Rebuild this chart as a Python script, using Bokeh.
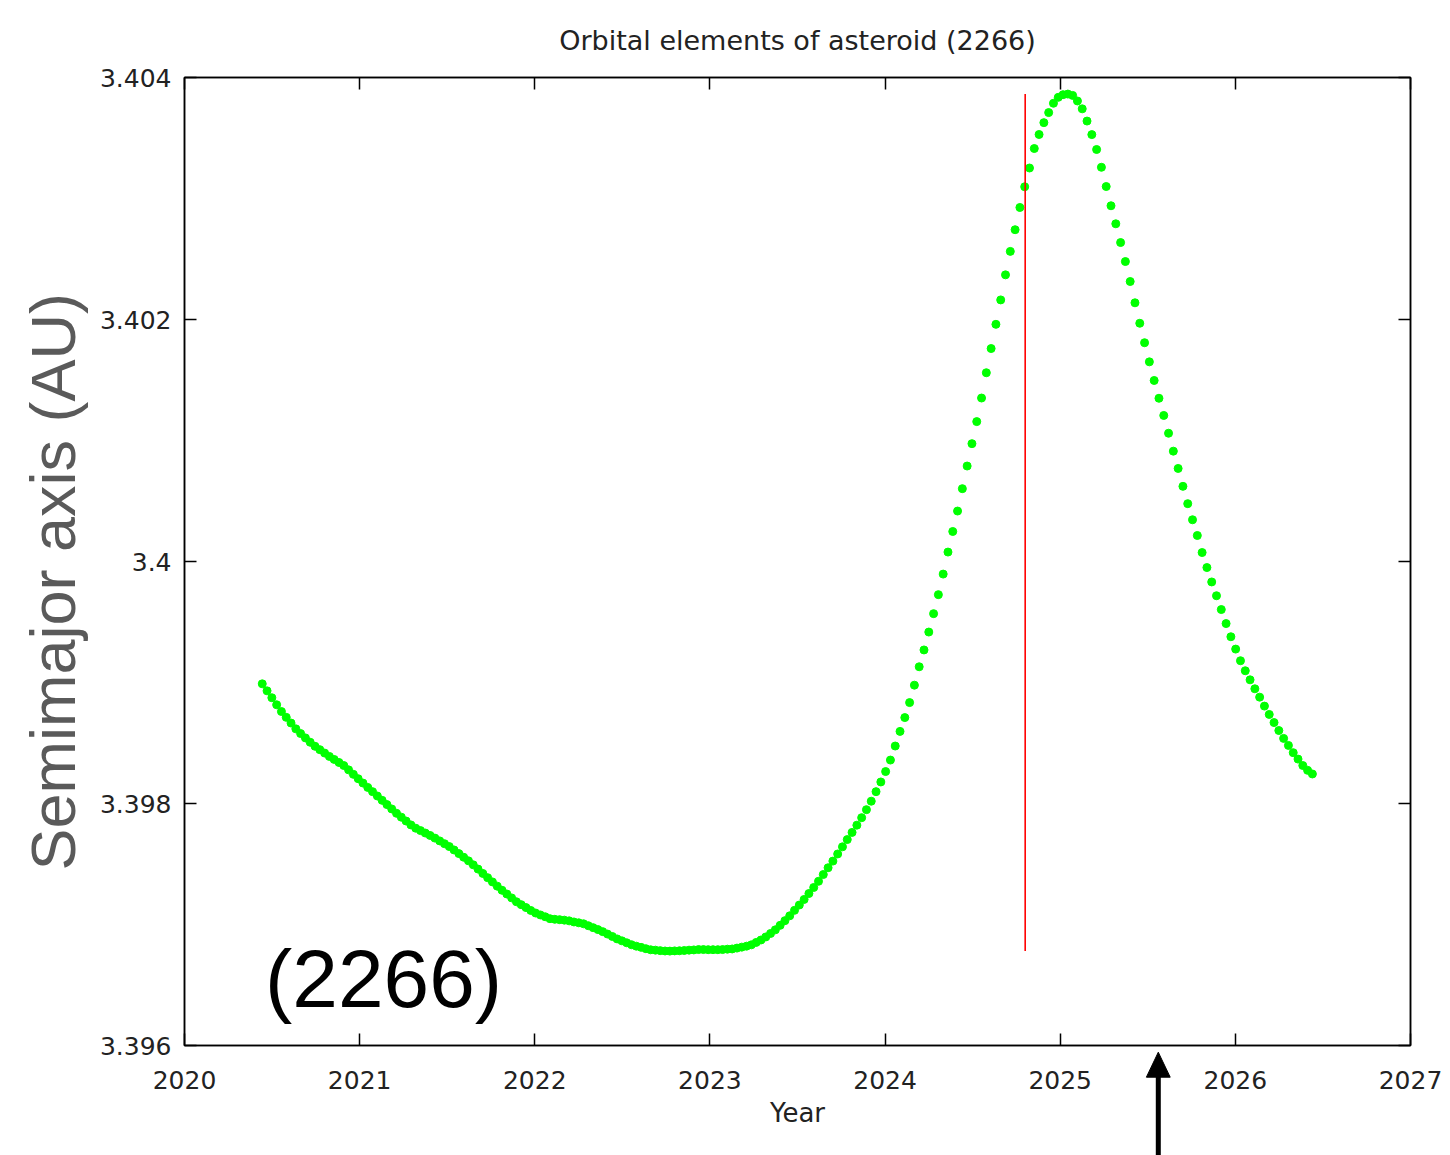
from bokeh.plotting import figure
from bokeh.models import (Range1d, FixedTicker, LinearAxis, Label, Title,
                          CustomJSTickFormatter, ColumnDataSource)
from bokeh.layouts import column
from bokeh.embed import file_html
from bokeh.resources import INLINE

# ---------------- data ----------------
title_text = "Orbital elements of asteroid (2266)"
x_label = "Year"
y_label = "Semimajor axis (AU)"
object_label = "(2266)"

start_year = 2020.444          # first sample epoch (decimal year)
step_days = 10.0               # sampling interval
semimajor_axis = [
    3.398989, 3.398931, 3.398874, 3.398816, 3.398760, 3.398712, 3.398665, 3.398617, 3.398578, 3.398542,
    3.398506, 3.398473, 3.398445, 3.398417, 3.398389, 3.398364, 3.398339, 3.398314, 3.398278, 3.398241,
    3.398205, 3.398169, 3.398133, 3.398098, 3.398062, 3.398026, 3.397991, 3.397955, 3.397919, 3.397887,
    3.397855, 3.397823, 3.397796, 3.397776, 3.397756, 3.397736, 3.397714, 3.397691, 3.397668, 3.397644,
    3.397616, 3.397586, 3.397556, 3.397526, 3.397493, 3.397458, 3.397422, 3.397387, 3.397352, 3.397317,
    3.397283, 3.397252, 3.397220, 3.397188, 3.397164, 3.397140, 3.397116, 3.397095, 3.397079, 3.397064,
    3.397048, 3.397043, 3.397040, 3.397036, 3.397030, 3.397021, 3.397014, 3.397006, 3.396990, 3.396974,
    3.396958, 3.396941, 3.396921, 3.396901, 3.396881, 3.396865, 3.396849, 3.396833, 3.396821, 3.396811,
    3.396800, 3.396791, 3.396788, 3.396784, 3.396781, 3.396780, 3.396782, 3.396783, 3.396785, 3.396788,
    3.396790, 3.396793, 3.396793, 3.396792, 3.396792, 3.396792, 3.396793, 3.396796, 3.396798, 3.396805,
    3.396813, 3.396821, 3.396832, 3.396852, 3.396872, 3.396897, 3.396926, 3.396956, 3.396993, 3.397032,
    3.397072, 3.397117, 3.397161, 3.397207, 3.397256, 3.397306, 3.397357, 3.397413, 3.397469, 3.397524,
    3.397583, 3.397642, 3.397702, 3.397761, 3.397821, 3.397883, 3.397949, 3.398019, 3.398098, 3.398178,
    3.398264, 3.398359, 3.398475, 3.398596, 3.398710, 3.398834, 3.398978, 3.399130, 3.399269, 3.399417,
    3.399569, 3.399726, 3.399896, 3.400078, 3.400248, 3.400417, 3.400602, 3.400789, 3.400974, 3.401156,
    3.401351, 3.401560, 3.401760, 3.401960, 3.402162, 3.402369, 3.402563, 3.402742, 3.402926, 3.403097,
    3.403252, 3.403413, 3.403529, 3.403627, 3.403710, 3.403787, 3.403836, 3.403858, 3.403863, 3.403852,
    3.403806, 3.403741, 3.403640, 3.403528, 3.403405, 3.403258, 3.403099, 3.402940, 3.402791, 3.402636,
    3.402479, 3.402314, 3.402138, 3.401969, 3.401808, 3.401650, 3.401496, 3.401349, 3.401207, 3.401060,
    3.400912, 3.400769, 3.400621, 3.400478, 3.400345, 3.400215, 3.400074, 3.399950, 3.399831, 3.399717,
    3.399603, 3.399487, 3.399378, 3.399276, 3.399180, 3.399097, 3.399022, 3.398948, 3.398879, 3.398805,
    3.398736, 3.398669, 3.398603, 3.398538, 3.398480, 3.398420, 3.398367, 3.398314, 3.398274, 3.398244,
]
marker_year = 2024.80          # red vertical marker
arrow_year = 2025.56           # black arrow below the axis

x_ticks = [2020, 2021, 2022, 2023, 2024, 2025, 2026, 2027]
y_ticks = [3.396, 3.398, 3.400, 3.402, 3.404]
x_limits = (2020, 2027)
y_limits = (3.396, 3.404)

# ---------------- main figure ----------------
W, H, BOTTOM = 1450, 1155, 110
years = [start_year + i * step_days / 365.25 for i in range(len(semimajor_axis))]
src = ColumnDataSource(dict(x=years, y=semimajor_axis))

p = figure(width=W, height=H, output_backend="svg", toolbar_location=None,
           x_range=Range1d(*x_limits), y_range=Range1d(*y_limits),
           min_border_left=184, min_border_right=40, min_border_top=77, min_border_bottom=BOTTOM,
           background_fill_color="white", border_fill_color="white")
p.xgrid.visible = False
p.ygrid.visible = False
p.outline_line_color = "black"
p.outline_line_width = 1.5

TICK_FONT = "DejaVu Sans"
fmt = CustomJSTickFormatter(code="return (+tick.toFixed(3)).toString();")

def style_axis(ax, labels=True):
    ax.axis_line_color = "black"
    ax.axis_line_width = 1.5
    ax.major_tick_line_color = "black"
    ax.major_tick_line_width = 1.5
    ax.major_tick_in = 12
    ax.major_tick_out = 0
    ax.minor_tick_line_color = None
    ax.major_label_text_font = TICK_FONT
    ax.major_label_text_font_size = "25px"
    ax.major_label_text_color = "#222222"
    if not labels:
        ax.major_label_text_font_size = "0px"
        ax.major_label_text_color = None

p.xaxis.ticker = FixedTicker(ticks=x_ticks)
p.yaxis.ticker = FixedTicker(ticks=y_ticks)
p.yaxis.formatter = fmt
style_axis(p.xaxis[0])
style_axis(p.yaxis[0])
p.xaxis.major_label_standoff = 25
p.yaxis.major_label_standoff = 13
p.xaxis.axis_label = x_label
p.xaxis.axis_label_text_font = TICK_FONT
p.xaxis.axis_label_text_font_size = "26px"
p.xaxis.axis_label_text_font_style = "normal"
p.xaxis.axis_label_text_color = "#222222"
p.xaxis.axis_label_standoff = 6

top_ax = LinearAxis(ticker=FixedTicker(ticks=x_ticks))
right_ax = LinearAxis(ticker=FixedTicker(ticks=y_ticks))
style_axis(top_ax, labels=False)
style_axis(right_ax, labels=False)
p.add_layout(top_ax, "above")
p.add_layout(right_ax, "right")

p.title.text = title_text
p.title.align = "center"
p.title.text_font = TICK_FONT
p.title.text_font_size = "27px"
p.title.text_font_style = "normal"
p.title.text_color = "#222222"
p.title.standoff = 44

# big gray y label as a left-side title, anchored near the bottom and shifted up
p.add_layout(Title(text=y_label, align="left", offset=175, standoff=18,
                   text_font="Liberation Sans", text_font_size="63px",
                   text_font_style="normal", text_color="#5a5a5a"), "left")

# data points
p.scatter("x", "y", source=src, size=8, color="#00ff00", line_color="#00ff00")

# red marker spanning the curve's range
p.line([marker_year, marker_year], [min(semimajor_axis), max(semimajor_axis)],
       line_color="red", line_width=1.6)

# big object label (data units)
p.add_layout(Label(x=2020.46, y=3.39655, text=object_label,
                   text_align="left", text_baseline="alphabetic",
                   text_font="Liberation Sans", text_font_size="82px", text_color="black"))

# ---------------- transparent strip under the frame for the arrow ----------------
strip = figure(width=W, height=BOTTOM, output_backend="svg", toolbar_location=None,
               x_range=p.x_range, y_range=Range1d(0, BOTTOM),
               min_border_left=184, min_border_right=40, min_border_top=0, min_border_bottom=0,
               x_axis_location=None, y_axis_location=None,
               background_fill_alpha=0, border_fill_alpha=0, margin=(-BOTTOM, 0, 0, 0))
strip.xgrid.visible = False
strip.ygrid.visible = False
strip.outline_line_color = None

tip, head_len, half_w = BOTTOM - 6.7, 25, 0.068
strip.segment(x0=[arrow_year], y0=[0], x1=[arrow_year], y1=[tip - head_len + 2],
              line_color="black", line_width=5)
strip.patch([arrow_year - half_w, arrow_year, arrow_year + half_w],
            [tip - head_len, tip, tip - head_len],
            fill_color="black", line_color="black", line_width=1)

layout = column(p, strip, spacing=0)
open("out.html", "w").write(file_html(layout, INLINE))
